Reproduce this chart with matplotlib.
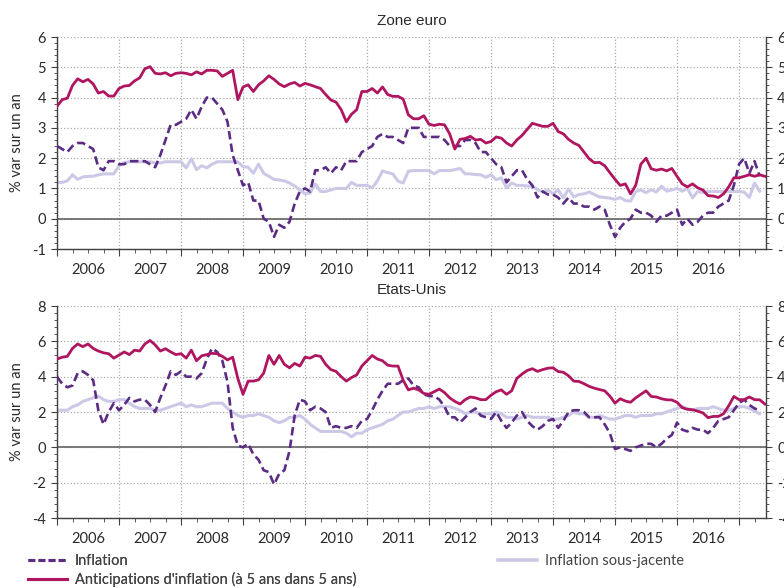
import numpy as np
import matplotlib
matplotlib.use("Agg")
import matplotlib.pyplot as plt
from matplotlib.ticker import MultipleLocator
from matplotlib.lines import Line2D

plt.rcParams['axes.unicode_minus'] = False
plt.rcParams['font.family'] = ['Lato', 'DejaVu Sans']

# ---------------- data (monthly, starting Jan 2006) ----------------
start_year = 2006

ez_anticip = [3.71, 3.93, 3.98, 4.4, 4.62, 4.52, 4.6, 4.45, 4.15, 4.2, 4.05, 4.05,
              4.3, 4.38, 4.4, 4.55, 4.65, 4.95, 5.02, 4.8, 4.78, 4.82, 4.72, 4.8,
              4.82, 4.8, 4.75, 4.85, 4.78, 4.9, 4.9, 4.88, 4.7, 4.8, 4.9, 3.93,
              4.35, 4.42, 4.2, 4.42, 4.55, 4.72, 4.6, 4.45, 4.36, 4.45, 4.5, 4.38,
              4.47, 4.42, 4.36, 4.3, 4.1, 3.92, 3.85, 3.6, 3.2, 3.45, 3.6, 4.2,
              4.2, 4.3, 4.15, 4.35, 4.1, 4.04, 4.04, 3.95, 3.43, 3.3, 3.3, 3.4,
              3.12, 3.08, 3.12, 3.1, 2.8, 2.3, 2.62, 2.65, 2.72, 2.6, 2.62, 2.5,
              2.55, 2.7, 2.66, 2.5, 2.4, 2.6, 2.75, 2.95, 3.15, 3.1, 3.05, 3.05,
              3.15, 2.88, 2.8, 2.62, 2.5, 2.42, 2.2, 1.98, 1.85, 1.86, 1.75, 1.52,
              1.3, 1.1, 1.15, 0.82, 1.1, 1.8, 2.0, 1.65, 1.6, 1.64, 1.58, 1.66,
              1.4, 1.15, 1.05, 1.15, 1.02, 0.95, 0.76, 0.75, 0.7, 0.82, 1.05, 1.35,
              1.35, 1.4, 1.45, 1.4, 1.45, 1.4]

ez_inflation = [2.4, 2.3, 2.2, 2.4, 2.5, 2.5, 2.4, 2.3, 1.7, 1.6, 1.9, 1.9,
                1.8, 1.8, 1.9, 1.9, 1.9, 1.9, 1.8, 1.7, 2.1, 2.6, 3.1, 3.1,
                3.2, 3.3, 3.6, 3.3, 3.7, 4.0, 4.0, 3.8, 3.6, 3.2, 2.1, 1.6,
                1.1, 1.2, 0.6, 0.6, 0.0, -0.1, -0.6, -0.2, -0.3, -0.1, 0.5, 0.9,
                1.0, 0.9, 1.6, 1.6, 1.7, 1.5, 1.7, 1.6, 1.9, 1.9, 1.9, 2.2,
                2.3, 2.4, 2.7, 2.8, 2.7, 2.7, 2.6, 2.5, 3.0, 3.0, 3.0, 2.7,
                2.7, 2.7, 2.7, 2.6, 2.4, 2.4, 2.4, 2.6, 2.6, 2.5, 2.2, 2.2,
                2.0, 1.8, 1.7, 1.2, 1.4, 1.6, 1.6, 1.3, 1.1, 0.7, 0.9, 0.8,
                0.8, 0.7, 0.5, 0.7, 0.5, 0.5, 0.4, 0.4, 0.3, 0.4, 0.3, -0.2,
                -0.6, -0.3, -0.1, 0.0, 0.3, 0.2, 0.2, 0.1, -0.1, 0.1, 0.1, 0.2,
                0.3, -0.2, 0.0, -0.2, -0.1, 0.1, 0.2, 0.2, 0.4, 0.5, 0.6, 1.1,
                1.8, 2.0, 1.5, 1.9, 1.4]

ez_core = [1.2, 1.2, 1.25, 1.45, 1.3, 1.38, 1.4, 1.4, 1.45, 1.48, 1.48, 1.48,
           1.75, 1.85, 1.88, 1.88, 1.88, 1.88, 1.88, 1.84, 1.84, 1.88, 1.88, 1.88,
           1.88, 1.68, 1.98, 1.62, 1.75, 1.68, 1.8, 1.88, 1.88, 1.88, 1.88, 1.88,
           1.72, 1.7, 1.5, 1.8, 1.5, 1.4, 1.3, 1.28, 1.25, 1.18, 1.08, 0.95,
           0.82, 0.85, 1.15, 0.9, 0.9, 0.95, 1.0, 1.0, 1.0, 1.2, 1.1, 1.1,
           1.1, 1.02, 1.25, 1.58, 1.52, 1.48, 1.24, 1.18, 1.57, 1.59, 1.59, 1.59,
           1.59, 1.48, 1.59, 1.59, 1.59, 1.62, 1.66, 1.48, 1.48, 1.46, 1.45, 1.37,
           1.45, 1.29, 1.35, 1.02, 1.18, 1.1, 1.1, 1.08, 1.07, 0.96, 0.88, 0.95,
           0.82, 0.95, 0.69, 0.98, 0.72, 0.8, 0.82, 0.88, 0.8, 0.72, 0.7, 0.68,
           0.64, 0.7, 0.6, 0.58, 0.9, 0.95, 0.86, 0.96, 0.88, 1.07, 0.91, 0.95,
           1.0, 0.91, 1.0, 0.69, 0.9, 0.86, 0.9, 0.9, 0.9, 0.9, 0.9, 0.9,
           0.9, 0.88, 0.7, 1.18, 0.91]

us_anticip = [5.0, 5.1, 5.15, 5.6, 5.85, 5.7, 5.85, 5.6, 5.45, 5.35, 5.3, 5.05,
              5.22, 5.4, 5.25, 5.5, 5.45, 5.85, 6.05, 5.8, 5.45, 5.58, 5.4, 5.25,
              5.3, 5.05, 5.5, 4.9, 5.18, 5.25, 5.32, 5.3, 5.15, 4.95, 5.1, 3.9,
              3.0, 3.75, 3.75, 3.82, 4.2, 5.2, 4.7, 5.2, 4.7, 4.5, 4.75, 4.6,
              5.1, 5.05, 5.2, 5.15, 4.7, 4.4, 4.3, 4.0, 3.75, 3.95, 4.1, 4.6,
              4.9, 5.2, 5.0, 4.9, 4.65, 4.6, 4.6, 3.8, 3.25, 3.35, 3.25, 3.05,
              3.0, 3.15, 3.3, 3.1, 2.8, 2.6, 2.45, 2.7, 2.85, 2.8, 2.7, 2.7,
              2.95, 3.15, 3.25, 3.0, 3.2, 3.9, 4.15, 4.35, 4.45, 4.3, 4.4, 4.48,
              4.5, 4.29, 4.25, 4.05, 3.75, 3.73, 3.6, 3.45, 3.35, 3.27, 3.2, 2.9,
              2.5, 2.75, 2.62, 2.55, 2.8, 3.0, 3.2, 2.88, 2.85, 2.75, 2.69, 2.68,
              2.55, 2.25, 2.15, 2.13, 2.05, 1.95, 1.68, 1.75, 1.75, 1.9, 2.35, 2.88,
              2.7, 2.7, 2.85, 2.7, 2.69, 2.45]

us_inflation = [4.0, 3.6, 3.4, 3.5, 4.2, 4.3, 4.1, 3.8, 2.1, 1.3, 2.0, 2.5,
                2.1, 2.4, 2.8, 2.6, 2.7, 2.7, 2.4, 2.0, 2.8, 3.5, 4.3, 4.1,
                4.3, 4.0, 4.0, 3.9, 4.2, 5.0, 5.6, 5.4, 4.9, 3.7, 1.1, 0.1,
                0.0, 0.2, -0.4, -0.7, -1.3, -1.4, -2.1, -1.5, -1.3, -0.2, 1.8, 2.7,
                2.6, 2.1, 2.3, 2.2, 2.0, 1.1, 1.2, 1.1, 1.1, 1.2, 1.1, 1.5,
                1.6, 2.1, 2.7, 3.2, 3.6, 3.6, 3.6, 3.8, 3.9, 3.5, 3.4, 3.0,
                2.9, 2.9, 2.7, 2.3, 1.7, 1.7, 1.4, 1.7, 2.0, 2.2, 1.8, 1.7,
                1.6, 2.0, 1.5, 1.1, 1.4, 1.8, 2.0, 1.5, 1.2, 1.0, 1.2, 1.5,
                1.6, 1.1, 1.5, 2.0, 2.1, 2.1, 2.0, 1.7, 1.7, 1.7, 1.3, 0.8,
                -0.1, 0.0, -0.1, -0.2, 0.0, 0.1, 0.2, 0.2, 0.0, 0.2, 0.5, 0.7,
                1.4, 1.0, 0.9, 1.1, 1.0, 1.0, 0.8, 1.1, 1.5, 1.6, 1.7, 2.1,
                2.5, 2.7, 2.4, 2.2, 2.1]

us_core = [2.1, 2.1, 2.1, 2.3, 2.4, 2.6, 2.7, 2.8, 2.9, 2.7, 2.6, 2.6,
           2.7, 2.7, 2.5, 2.3, 2.2, 2.2, 2.2, 2.1, 2.1, 2.2, 2.3, 2.4,
           2.5, 2.3, 2.4, 2.3, 2.3, 2.4, 2.5, 2.5, 2.5, 2.2, 2.0, 1.8,
           1.7, 1.8, 1.8, 1.9, 1.8, 1.7, 1.5, 1.4, 1.5, 1.7, 1.7, 1.8,
           1.6, 1.3, 1.1, 0.9, 0.9, 0.9, 0.9, 0.9, 0.8, 0.6, 0.8, 0.8,
           1.0, 1.1, 1.2, 1.3, 1.5, 1.6, 1.8, 2.0, 2.0, 2.1, 2.2, 2.2,
           2.3, 2.2, 2.3, 2.3, 2.3, 2.2, 2.1, 1.9, 2.0, 2.0, 1.9, 1.9,
           1.9, 2.0, 1.9, 1.7, 1.7, 1.6, 1.7, 1.8, 1.7, 1.7, 1.7, 1.7,
           1.6, 1.6, 1.7, 1.8, 2.0, 1.9, 1.9, 1.7, 1.7, 1.8, 1.7, 1.6,
           1.6, 1.7, 1.8, 1.8, 1.7, 1.8, 1.8, 1.8, 1.9, 1.9, 2.0, 2.1,
           2.2, 2.3, 2.2, 2.1, 2.2, 2.2, 2.2, 2.3, 2.2, 2.1, 2.1, 2.2,
           2.3, 2.3, 2.2, 2.05, 1.9]

year_labels = ['2006', '2007', '2008', '2009', '2010', '2011',
               '2012', '2013', '2014', '2015', '2016']
panel_titles = ['Zone euro', 'Etats-Unis']
legend_labels = ['Inflation', "Anticipations d'inflation (à 5 ans dans 5 ans)",
                 'Inflation sous-jacente']
y_label = '% var sur un an'

# ---------------- style ----------------
C_ANT = '#B0155F'
C_INF = '#5B2C84'
C_CORE = '#CCC9E7'
C_AX = '#404040'
C_TXT = '#2A2A2A'
X_MIN, X_MAX = 2006.0, 2017.435


def months(n):
    return start_year + np.arange(n) / 12.0


def panel(ax, anticip, infl, core, ylim, major, minor, title):
    ax.plot(months(len(core)), core, color=C_CORE, lw=2.2, zorder=2,
            solid_joinstyle='round')
    ax.plot(months(len(infl)), infl, color=C_INF, lw=1.9, zorder=3,
            linestyle=(0, (3.2, 1.6)))
    ax.plot(months(len(anticip)), anticip, color=C_ANT, lw=2.0, zorder=4,
            solid_joinstyle='round')
    ax.axhline(0, color='#6E6E6E', lw=1.3, zorder=1.5)

    ax.set_xlim(X_MIN, X_MAX)
    ax.set_ylim(*ylim)
    ax.yaxis.set_major_locator(MultipleLocator(major))
    ax.yaxis.set_minor_locator(MultipleLocator(minor))
    ax.xaxis.set_major_locator(MultipleLocator(1))
    ax.xaxis.set_minor_locator(MultipleLocator(0.25))
    ax.grid(True, which='major', color='#ABABAB', linestyle=':', linewidth=0.9)
    ax.set_axisbelow(True)

    ax.spines['top'].set_visible(False)
    for s in ('left', 'right', 'bottom'):
        ax.spines[s].set_color(C_AX)
        ax.spines[s].set_linewidth(1.0)

    ax.tick_params(axis='y', which='both', direction='out', left=True, right=True,
                   labelleft=True, labelright=True, colors=C_AX,
                   labelcolor=C_TXT, labelsize=10.5)
    ax.tick_params(axis='y', which='major', length=4, pad=4)
    ax.tick_params(axis='y', which='minor', length=2.5)
    ax.tick_params(axis='x', which='both', direction='out', labelbottom=False,
                   colors=C_AX)
    ax.tick_params(axis='x', which='major', length=5)
    ax.tick_params(axis='x', which='minor', length=3)

    sec = ax.secondary_xaxis('bottom')
    sec.set_xticks(np.arange(len(year_labels)) + start_year + 0.5, year_labels)
    sec.tick_params(length=0, pad=10, labelsize=10.5, labelcolor=C_TXT)
    sec.spines['bottom'].set_visible(False)

    ax.set_title(title, fontsize=11, family='Liberation Sans', color=C_TXT,
                 pad=9)
    ax.set_ylabel(y_label, fontsize=10.5, color=C_TXT, labelpad=6)


fig = plt.figure(figsize=(7.84, 5.88), dpi=100)
ax1 = fig.add_axes([57 / 784, 1 - 249 / 588, 709 / 784, 212 / 588])
ax2 = fig.add_axes([57 / 784, 1 - 518 / 588, 709 / 784, 212 / 588])

panel(ax1, ez_anticip, ez_inflation, ez_core, (-1, 6), 1, 0.2, panel_titles[0])
panel(ax2, us_anticip, us_inflation, us_core, (-4, 8), 2, 0.4, panel_titles[1])

h_inf = Line2D([], [], color=C_INF, lw=2.2, linestyle=(0, (2.2, 1.1)))
h_ant = Line2D([], [], color=C_ANT, lw=2.2)
h_core = Line2D([], [], color=C_CORE, lw=2.6)

leg_font = dict(family=['Lato', 'DejaVu Sans'], size=10.5)
leg1 = fig.legend([h_inf, h_ant], legend_labels[:2], loc='upper left',
                  bbox_to_anchor=(28 / 784, 1 - 554 / 588), frameon=False,
                  prop=leg_font, handlelength=2.7, handletextpad=0.5,
                  labelspacing=0.3, borderpad=0, borderaxespad=0,
                  labelcolor='#444444')
leg2 = fig.legend([h_core], legend_labels[2:], loc='upper left',
                  bbox_to_anchor=(498 / 784, 1 - 554 / 588), frameon=False,
                  prop=leg_font, handlelength=2.7, handletextpad=0.5,
                  borderpad=0, borderaxespad=0, labelcolor='#444444')
fig.add_artist(leg1)

fig.savefig('out.png', dpi=100)
